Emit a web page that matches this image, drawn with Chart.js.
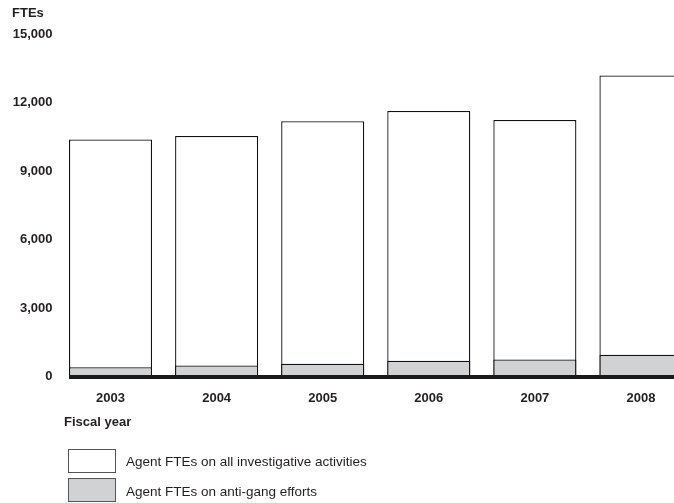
<!DOCTYPE html>
<html>
<head>
<meta charset="utf-8">
<script src="https://cdn.jsdelivr.net/npm/chart.js@4"></script>
<style>
  html, body { margin: 0; padding: 0; background: #fff; overflow: hidden; width: 674px; height: 503px; }
  #wrap { position: relative; width: 694px; height: 503px; }
  canvas { position: absolute; left: 0; top: 0; }
  .lbl { position: absolute; font-family: "Liberation Sans", Arial, Helvetica, sans-serif; color: #231f20; white-space: nowrap; }
  .bold { font-weight: bold; font-size: 13px; }
  .box { position: absolute; width: 46px; height: 22px; border: 1px solid #555; }
  .leg { font-size: 13.5px; }
</style>
</head>
<body>
<div id="wrap">
  <canvas id="c" width="694" height="503"></canvas>
  <div class="lbl bold" style="left:12px; top:5px;">FTEs</div>
  <div class="lbl bold" style="left:64px; top:414px;">Fiscal year</div>
  <div class="box" style="left:68px; top:449px; background:#ffffff;"></div>
  <div class="lbl leg" style="left:126px; top:454px;">Agent FTEs on all investigative activities</div>
  <div class="box" style="left:68px; top:478px; background:#d1d2d4;"></div>
  <div class="lbl leg" style="left:126px; top:484px;">Agent FTEs on anti-gang efforts</div>
</div>
<script>
const categories = ["2003", "2004", "2005", "2006", "2007", "2008"];
const allInvestigative = [10400, 10550, 11200, 11650, 11250, 13200];
const antiGang = [410, 480, 560, 690, 750, 950];
const yTicks = [0, 3000, 6000, 9000, 12000, 15000];

const baseline = {
  id: 'baseline',
  afterDatasetsDraw(chart) {
    const meta = chart.getDatasetMeta(0);
    const first = meta.data[0];
    const y0 = chart.scales.y.getPixelForValue(0);
    const ctx = chart.ctx;
    ctx.save();
    ctx.strokeStyle = '#1a1a1a';
    ctx.lineWidth = 4;
    ctx.beginPath();
    ctx.moveTo(first.x - first.width / 2, y0 + 0.5);
    ctx.lineTo(chart.chartArea.right, y0 + 0.5);
    ctx.stroke();
    ctx.restore();
  }
};

new Chart(document.getElementById('c'), {
  type: 'bar',
  data: {
    labels: categories,
    datasets: [
      { label: 'Agent FTEs on anti-gang efforts', data: antiGang, backgroundColor: '#d1d2d4', borderColor: '#111111', borderWidth: 1.3 },
      { label: 'Agent FTEs on all investigative activities', data: allInvestigative, backgroundColor: '#ffffff', borderColor: '#111111', borderWidth: 1.3 }
    ]
  },
  options: {
    responsive: false,
    animation: false,
    devicePixelRatio: 1,
    layout: { padding: { top: 34.5, left: 0, right: 0, bottom: 0 } },
    datasets: { bar: { grouped: false, barPercentage: 0.783, categoryPercentage: 1 } },
    plugins: { legend: { display: false }, tooltip: { enabled: false }, title: { display: false } },
    scales: {
      x: {
        offset: true,
        grid: { display: false, drawTicks: false },
        border: { display: false },
        ticks: { color: '#231f20', padding: 14, maxRotation: 0, font: { family: 'Liberation Sans, Arial, sans-serif', size: 13, weight: 'bold' } },
        afterFit(s) { s.height = 126.5; }
      },
      y: {
        min: 0, max: 15000,
        afterBuildTicks(s) { s.ticks = yTicks.map(v => ({ value: v })); },
        grid: { display: false, drawTicks: false },
        border: { display: false },
        ticks: {
          color: '#231f20', padding: 5,
          font: { family: 'Liberation Sans, Arial, sans-serif', size: 13, weight: 'bold' },
          callback: v => v.toLocaleString('en-US')
        },
        afterFit(s) { s.width = 57.5; }
      }
    }
  },
  plugins: [baseline]
});
</script>
</body>
</html>
